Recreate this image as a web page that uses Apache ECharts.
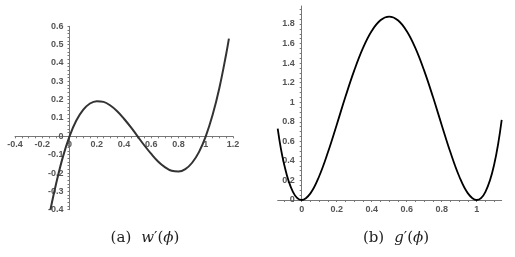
<!DOCTYPE html>
<html><head><meta charset="utf-8">
<script src="https://cdn.jsdelivr.net/npm/echarts@6/dist/echarts.min.js"></script>
<style>html,body{margin:0;padding:0;background:#fff}#c{width:515px;height:257px}</style>
</head><body><div id="c"></div>
<script>
// (a) w'(phi)
const phiA = [-0.14,-0.1,-0.05,0,0.05,0.1,0.15,0.2,0.25,0.3,0.35,0.4,0.45,0.5,0.55,0.6,0.65,0.7,0.75,0.8,0.85,0.9,0.95,1.0,1.05,1.1,1.15,1.17];
const wA   = [-0.40,-0.264,-0.116,0,0.086,0.144,0.179,0.192,0.188,0.168,0.137,0.096,0.050,0,-0.050,-0.096,-0.137,-0.168,-0.188,-0.192,-0.179,-0.144,-0.086,0,0.116,0.264,0.449,0.533];
// (b) g'(phi)
const phiB = [-0.137,-0.1,-0.05,0,0.05,0.1,0.15,0.2,0.25,0.3,0.35,0.4,0.45,0.5,0.55,0.6,0.65,0.7,0.75,0.8,0.85,0.9,0.95,1.0,1.05,1.1,1.143];
const gB   = [0.73,0.363,0.083,0,0.068,0.243,0.488,0.768,1.055,1.323,1.553,1.728,1.838,1.875,1.838,1.728,1.553,1.323,1.055,0.768,0.488,0.243,0.068,0,0.083,0.363,0.82];

const xLabelsA = [-0.4,-0.2,0,0.2,0.4,0.6,0.8,1,1.2];
const yLabelsA = [-0.4,-0.3,-0.2,-0.1,0,0.1,0.2,0.3,0.4,0.5,0.6];
const xLabelsB = [0,0.2,0.4,0.6,0.8,1];
const yLabelsB = [0,0.2,0.4,0.6,0.8,1,1.2,1.4,1.6,1.8];
const xTicksA = [-0.4,-0.35,-0.3,-0.25,-0.2,-0.15,-0.1,-0.05,0,0.05,0.1,0.15,0.2,0.25,0.3,0.35,0.4,0.45,0.5,0.55,0.6,0.65,0.7,0.75,0.8,0.85,0.9,0.95,1,1.05,1.1,1.15,1.2];
const yTicksA = [-0.4,-0.38,-0.36,-0.34,-0.32,-0.3,-0.28,-0.26,-0.24,-0.22,-0.2,-0.18,-0.16,-0.14,-0.12,-0.1,-0.08,-0.06,-0.04,-0.02,0,0.02,0.04,0.06,0.08,0.1,0.12,0.14,0.16,0.18,0.2,0.22,0.24,0.26,0.28,0.3,0.32,0.34,0.36,0.38,0.4,0.42,0.44,0.46,0.48,0.5,0.52,0.54,0.56,0.58,0.6];
const xTicksB = [-0.1,-0.05,0,0.05,0.1,0.15,0.2,0.25,0.3,0.35,0.4,0.45,0.5,0.55,0.6,0.65,0.7,0.75,0.8,0.85,0.9,0.95,1,1.05,1.1];
const yTicksB = [0,0.05,0.1,0.15,0.2,0.25,0.3,0.35,0.4,0.45,0.5,0.55,0.6,0.65,0.7,0.75,0.8,0.85,0.9,0.95,1,1.05,1.1,1.15,1.2,1.25,1.3,1.35,1.4,1.45,1.5,1.55,1.6,1.65,1.7,1.75,1.8,1.85,1.9,1.95];

// axis extents
const xA = [-0.4, 1.2], yA = [-0.4, 0.6], xB = [-0.137, 1.143], yB = [0, 1.984];
// grid boxes (pixels)
const gA = {left: 15, top: 26.3, width: 218, height: 183.4};
const gB2 = {left: 277.7, top: 6, width: 224, height: 194};
// offsets so that axes cross at zero (negative offset moves the axis into the grid)
const offXA = -gA.height * (0 - yA[0]) / (yA[1] - yA[0]);
const offYA = -gA.width * (0 - xA[0]) / (xA[1] - xA[0]);
const offYB = -gB2.width * (0 - xB[0]) / (xB[1] - xB[0]);

const lbl = {fontSize: 9, fontWeight: 'bold', color: '#555', fontFamily: 'Liberation Sans, Arial, sans-serif'};
const axLine = {onZero: false, lineStyle: {color: '#777', width: 1}};
const tick = (vals) => ({show: true, inside: false, length: 2, customValues: vals, lineStyle: {color: '#777', width: 1}});
const serif = 'DejaVu Serif, Liberation Serif, serif';
const rich = {n: {fontFamily: serif, fontSize: 15, fontWeight: 'normal', color: '#222'},
              i: {fontFamily: serif, fontSize: 15, fontWeight: 'normal', fontStyle: 'italic', color: '#222'}};

const chart = echarts.init(document.getElementById('c'), null, {renderer: 'canvas'});
chart.setOption({
  animation: false,
  backgroundColor: '#fff',
  grid: [
    Object.assign({outerBoundsMode: 'none', containLabel: false}, gA),
    Object.assign({outerBoundsMode: 'none', containLabel: false}, gB2)
  ],
  xAxis: [
    {gridIndex: 0, type: 'value', min: xA[0], max: xA[1], offset: offXA, axisLine: axLine, axisTick: tick(xTicksA), splitLine: {show: false},
     axisLabel: Object.assign({customValues: xLabelsA, margin: 4}, lbl)},
    {gridIndex: 1, type: 'value', min: xB[0], max: xB[1], axisLine: axLine, axisTick: tick(xTicksB), splitLine: {show: false},
     axisLabel: Object.assign({customValues: xLabelsB, margin: 5}, lbl)}
  ],
  yAxis: [
    {gridIndex: 0, type: 'value', min: yA[0], max: yA[1], offset: offYA, axisLine: axLine, axisTick: tick(yTicksA), splitLine: {show: false},
     axisLabel: Object.assign({customValues: yLabelsA, margin: 6}, lbl)},
    {gridIndex: 1, type: 'value', min: yB[0], max: yB[1], offset: offYB, axisLine: axLine, axisTick: tick(yTicksB), splitLine: {show: false},
     axisLabel: Object.assign({customValues: yLabelsB, margin: 7}, lbl)}
  ],
  series: [
    {type: 'line', xAxisIndex: 0, yAxisIndex: 0, showSymbol: false, smooth: 0.4,
     data: phiA.map((p, i) => [p, wA[i]]), lineStyle: {color: '#333', width: 2}},
    {type: 'line', xAxisIndex: 1, yAxisIndex: 1, showSymbol: false, smooth: 0.4,
     data: phiB.map((p, i) => [p, gB[i]]), lineStyle: {color: '#000', width: 1.8}}
  ],
  title: [
    {text: '{n|(a)}  {i|w}{n|′(}{i|ϕ}{n|)}', left: 140, top: 224, textAlign: 'center', textStyle: {rich: rich}},
    {text: '{n|(b)}  {i|g}{n|′(}{i|ϕ}{n|)}', left: 391, top: 224, textAlign: 'center', textStyle: {rich: rich}}
  ]
});
</script></body></html>
